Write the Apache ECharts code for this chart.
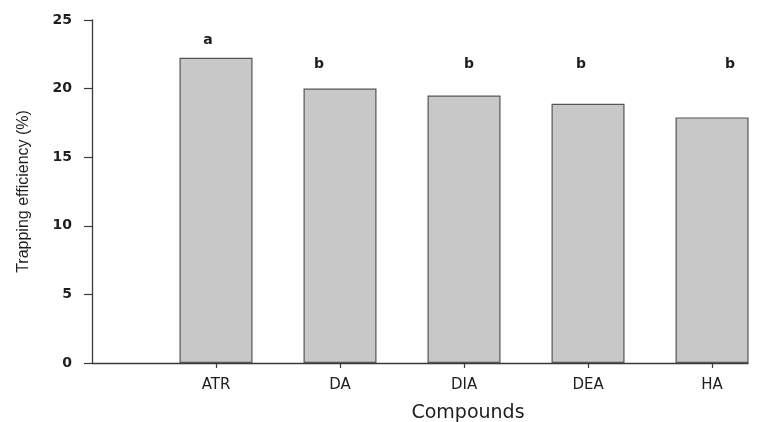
<!DOCTYPE html>
<html>
<head>
<meta charset="utf-8">
<title>Trapping efficiency by compound</title>
<script src="https://cdn.jsdelivr.net/npm/echarts@6/dist/echarts.min.js"></script>
<style>
  html, body { margin: 0; padding: 0; background: #ffffff; }
  #chart { width: 758px; height: 422px; }
</style>
</head>
<body>
<div id="chart"></div>
<script>
// Compounds and their mean trapping efficiency (%)
const compounds = ['ATR', 'DA', 'DIA', 'DEA', 'HA'];
const efficiency = [22.25, 20.0, 19.5, 18.9, 17.9];
// Significance groups shown above the bars
const groups = ['a', 'b', 'b', 'b', 'b'];
// Y-axis ticks
const yTicks = [0, 5, 10, 15, 20, 25];

// Pixel nudges for the group letters (layout only)
const letterShift = [[-8, -5], [-21, -12], [5, -19], [-7, -27], [18, -41]];

const positions = compounds.map((_, i) => i + 1);

const chart = echarts.init(document.getElementById('chart'), null, { renderer: 'canvas' });

const axisColor = '#3a3a3a';
const textColor = '#1e1e1e';

chart.setOption({
  animation: false,
  backgroundColor: '#ffffff',
  grid: { left: 92, right: 10, top: 20, bottom: 59, containLabel: false, outerBoundsMode: 'none' },
  xAxis: {
    type: 'value',
    min: 0,
    max: 5.29,
    interval: 1,
    splitLine: { show: false },
    axisLine: { show: true, lineStyle: { color: axisColor, width: 1.3 } },
    axisTick: {
      show: true,
      length: 5,
      customValues: positions,
      lineStyle: { color: axisColor, width: 1.2 }
    },
    axisLabel: {
      customValues: positions,
      margin: 15,
      formatter: v => compounds[Math.round(v) - 1] || '',
      fontFamily: 'DejaVu Sans',
      fontSize: 15,
      color: textColor
    },
    name: 'Compounds',
    nameLocation: 'middle',
    nameGap: 41,
    nameTextStyle: {
      fontFamily: 'DejaVu Sans',
      fontSize: 19,
      color: textColor,
      padding: [0, 0, 0, 96]
    }
  },
  yAxis: {
    type: 'value',
    min: yTicks[0],
    max: yTicks[yTicks.length - 1],
    interval: yTicks[1] - yTicks[0],
    splitLine: { show: false },
    axisLine: { show: true, lineStyle: { color: axisColor, width: 1.3 } },
    axisTick: { show: true, length: 8, lineStyle: { color: axisColor, width: 1.2 } },
    axisLabel: {
      margin: 20,
      fontFamily: 'DejaVu Sans',
      fontWeight: 'bold',
      fontSize: 14,
      color: textColor
    },
    name: 'Trapping efficiency (%)',
    nameLocation: 'middle',
    nameGap: 60,
    nameTextStyle: {
      fontFamily: 'Liberation Sans',
      fontSize: 16,
      color: textColor
    }
  },
  series: [{
    type: 'bar',
    barWidth: 73,
    data: efficiency.map((v, i) => ({
      value: [positions[i], v],
      label: { offset: letterShift[i] }
    })),
    itemStyle: { color: '#c8c8c8', borderColor: '#555555', borderWidth: 1.2 },
    label: {
      show: true,
      position: 'top',
      distance: 5,
      formatter: p => groups[p.dataIndex],
      fontFamily: 'DejaVu Sans',
      fontWeight: 'bold',
      fontSize: 14,
      color: textColor
    }
  }]
});
</script>
</body>
</html>
